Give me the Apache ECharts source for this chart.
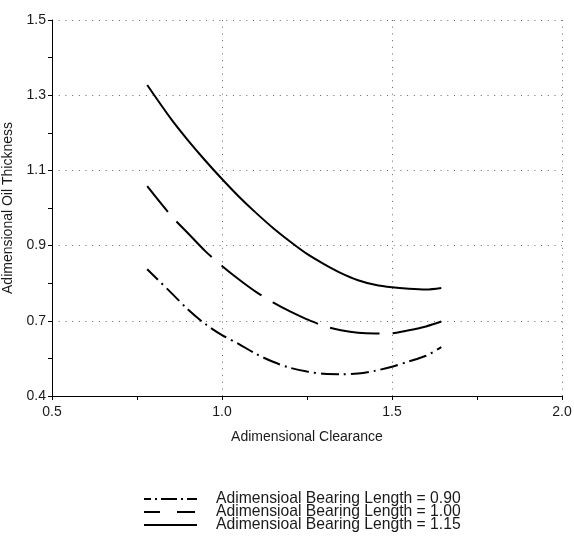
<!DOCTYPE html>
<html>
<head>
<meta charset="utf-8">
<script src="https://cdn.jsdelivr.net/npm/echarts@6/dist/echarts.min.js"></script>
<style>
html,body{margin:0;padding:0;background:#fff;}
#chart{width:574px;height:541px;}
</style>
</head>
<body>
<div id="chart"></div>
<script>
// ---- data ----
const clearance = [0.78, 0.85, 0.9, 0.95, 1.0, 1.05, 1.1, 1.15, 1.2, 1.25, 1.3, 1.35, 1.4, 1.45, 1.5, 1.55, 1.6, 1.645];
const thickness090 = [0.837, 0.775, 0.73, 0.692, 0.662, 0.638, 0.612, 0.591, 0.575, 0.565, 0.559, 0.558, 0.56, 0.567, 0.578, 0.592, 0.607, 0.63];
const thickness100 = [1.058, 0.98, 0.933, 0.886, 0.846, 0.81, 0.777, 0.749, 0.725, 0.704, 0.686, 0.675, 0.668, 0.666, 0.667, 0.675, 0.685, 0.698];
const thickness115 = [1.327, 1.237, 1.18, 1.127, 1.077, 1.03, 0.987, 0.947, 0.911, 0.878, 0.851, 0.827, 0.808, 0.796, 0.789, 0.785, 0.783, 0.787];
const seriesNames = ['Adimensioal Bearing Length = 0.90', 'Adimensioal Bearing Length = 1.00', 'Adimensioal Bearing Length = 1.15'];
const xTickValues = [0.5, 1.0, 1.5, 2.0];
const xTickLabels = ['0.5', '1.0', '1.5', '2.0'];
const yTickValues = [0.5, 0.7, 0.9, 1.1, 1.3, 1.5];
const yTickLabels = ['0.4', '0.7', '0.9', '1.1', '1.3', '1.5'];
const xTitle = 'Adimensional Clearance';
const yTitle = 'Adimensional Oil Thickness';

function pairs(xs, ys) { return xs.map((x, i) => [x, ys[i]]); }
function lookup(vals, labels) {
  return function (v) {
    for (let i = 0; i < vals.length; i++) { if (Math.abs(v - vals[i]) < 1e-6) return labels[i]; }
    return '';
  };
}

const FONT = "'Liberation Sans', Arial, sans-serif";
const TXT = '#1a1a1a';
const GRID_DOT = '#666';

const chart = echarts.init(document.getElementById('chart'), null, { renderer: 'canvas' });
chart.setOption({
  animation: false,
  backgroundColor: '#fff',
  grid: { left: 52, right: 12, top: 20, bottom: 145, containLabel: false, outerBoundsMode: 'none' },
  xAxis: {
    type: 'value', min: 0.5, max: 2.0, interval: 0.25,
    name: xTitle, nameLocation: 'middle', nameGap: 34,
    nameTextStyle: { fontFamily: FONT, fontSize: 14, color: TXT },
    axisLine: { show: true, onZero: false, lineStyle: { color: '#000', width: 1 } },
    axisTick: { show: true, length: 4, lineStyle: { color: '#000' } },
    axisLabel: { margin: 9, fontFamily: FONT, fontSize: 14, color: TXT, formatter: lookup(xTickValues, xTickLabels), showMinLabel: true, showMaxLabel: true },
    splitLine: { show: true, lineStyle: { color: [GRID_DOT, 'rgba(0,0,0,0)'], type: [1, 5.7], width: 1 } }
  },
  yAxis: {
    type: 'value', min: 0.5, max: 1.5, interval: 0.1,
    name: yTitle, nameLocation: 'middle', nameGap: 31, nameRotate: 90,
    nameTextStyle: { fontFamily: FONT, fontSize: 14, color: TXT },
    axisLine: { show: true, onZero: false, lineStyle: { color: '#000', width: 1 } },
    axisTick: { show: true, length: 4, lineStyle: { color: '#000' } },
    axisLabel: { margin: 6, fontFamily: FONT, fontSize: 14, color: TXT, formatter: lookup(yTickValues, yTickLabels), showMinLabel: true, showMaxLabel: true },
    splitLine: { show: true, lineStyle: { color: [GRID_DOT, 'rgba(0,0,0,0)'], type: [1, 5.7], width: 1 } }
  },
  legend: {
    orient: 'vertical', left: 143, top: 491, padding: 0,
    itemWidth: 53, itemHeight: 12, itemGap: -3,
    itemStyle: { opacity: 0 },
    textStyle: { fontFamily: FONT, fontSize: 15.7, color: TXT, lineHeight: 12, padding: [0, 0, 0, 14] },
    data: [
      { name: seriesNames[0], lineStyle: { type: [16, 4, 2, 4], dashOffset: 9, width: 2, color: '#000' } },
      { name: seriesNames[1], lineStyle: { type: [18, 17], dashOffset: 2, width: 2, color: '#000' } },
      { name: seriesNames[2], lineStyle: { type: 'solid', width: 2, color: '#000' } }
    ]
  },
  series: [
    { name: seriesNames[0], type: 'line', data: pairs(clearance, thickness090), smooth: 0.3, symbol: 'none',
      lineStyle: { color: '#000', width: 2, type: [18, 5, 2, 5], dashOffset: 3 }, itemStyle: { color: '#000' } },
    { name: seriesNames[1], type: 'line', data: pairs(clearance, thickness100), smooth: 0.3, symbol: 'none',
      lineStyle: { color: '#000', width: 2, type: [50, 13], dashOffset: 17 }, itemStyle: { color: '#000' } },
    { name: seriesNames[2], type: 'line', data: pairs(clearance, thickness115), smooth: 0.3, symbol: 'none',
      lineStyle: { color: '#000', width: 2, type: 'solid' }, itemStyle: { color: '#000' } }
  ]
});
</script>
</body>
</html>
